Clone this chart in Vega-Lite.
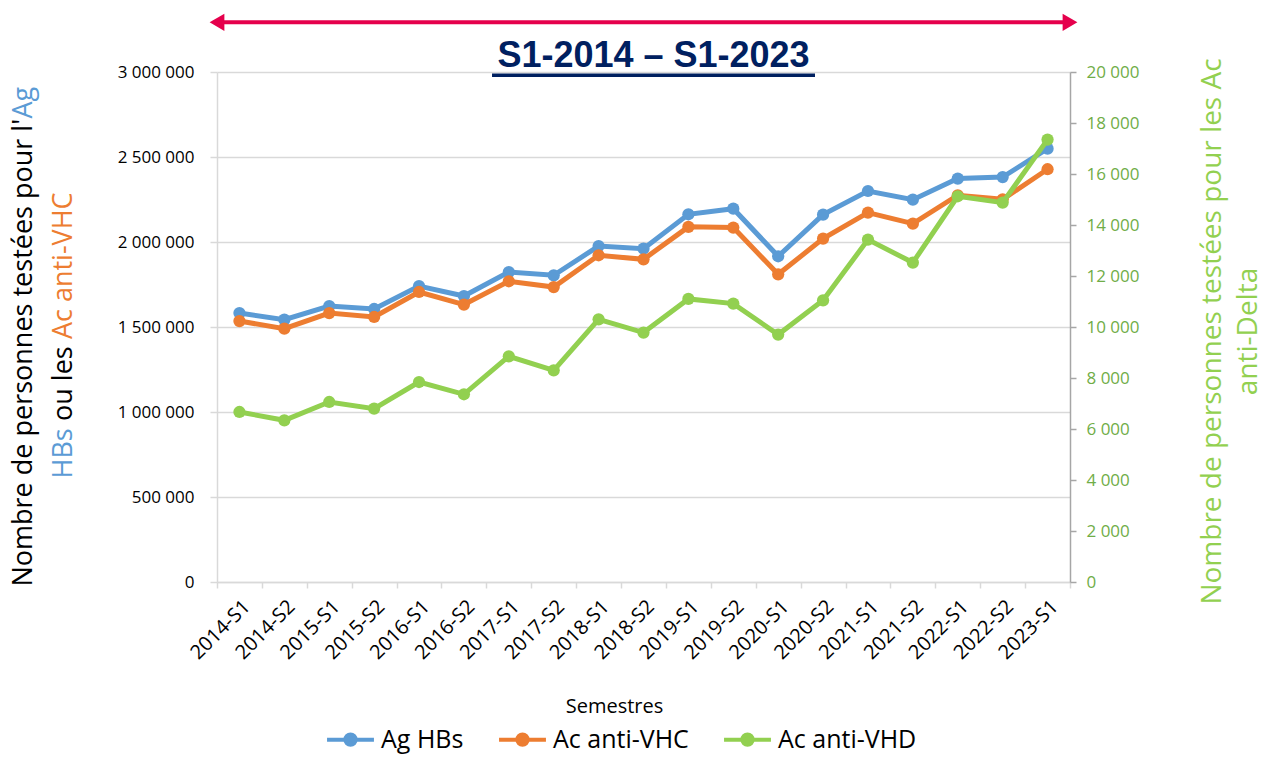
{
  "$schema": "https://vega.github.io/schema/vega-lite/v6.json",
  "width": 853,
  "height": 510,
  "autosize": "none",
  "padding": {"left": 217, "top": 72, "right": 194, "bottom": 175},
  "background": "white",
  "title": {
    "text": "S1-2014 – S1-2023",
    "font": "Liberation Sans",
    "fontSize": 36,
    "fontWeight": "bold",
    "color": "#002060",
    "anchor": "middle",
    "baseline": "alphabetic",
    "offset": 0,
    "dx": 10,
    "dy": 89
  },
  "config": {
    "view": {"stroke": null},
    "locale": {"number": {"decimal": ",", "thousands": " ", "grouping": [3], "currency": ["", " €"]}}
  },
  "datasets": {
    "series": [
      {"sem": "2014-S1", "serie": "Ag HBs", "n": 1582000},
      {"sem": "2014-S2", "serie": "Ag HBs", "n": 1543000},
      {"sem": "2015-S1", "serie": "Ag HBs", "n": 1623000},
      {"sem": "2015-S2", "serie": "Ag HBs", "n": 1606000},
      {"sem": "2016-S1", "serie": "Ag HBs", "n": 1741000},
      {"sem": "2016-S2", "serie": "Ag HBs", "n": 1682000},
      {"sem": "2017-S1", "serie": "Ag HBs", "n": 1823000},
      {"sem": "2017-S2", "serie": "Ag HBs", "n": 1804000},
      {"sem": "2018-S1", "serie": "Ag HBs", "n": 1976000},
      {"sem": "2018-S2", "serie": "Ag HBs", "n": 1961000},
      {"sem": "2019-S1", "serie": "Ag HBs", "n": 2163000},
      {"sem": "2019-S2", "serie": "Ag HBs", "n": 2196000},
      {"sem": "2020-S1", "serie": "Ag HBs", "n": 1916000},
      {"sem": "2020-S2", "serie": "Ag HBs", "n": 2161000},
      {"sem": "2021-S1", "serie": "Ag HBs", "n": 2300000},
      {"sem": "2021-S2", "serie": "Ag HBs", "n": 2249000},
      {"sem": "2022-S1", "serie": "Ag HBs", "n": 2373000},
      {"sem": "2022-S2", "serie": "Ag HBs", "n": 2382000},
      {"sem": "2023-S1", "serie": "Ag HBs", "n": 2549000},
      {"sem": "2014-S1", "serie": "Ac anti-VHC", "n": 1535000},
      {"sem": "2014-S2", "serie": "Ac anti-VHC", "n": 1490000},
      {"sem": "2015-S1", "serie": "Ac anti-VHC", "n": 1582000},
      {"sem": "2015-S2", "serie": "Ac anti-VHC", "n": 1559000},
      {"sem": "2016-S1", "serie": "Ac anti-VHC", "n": 1706000},
      {"sem": "2016-S2", "serie": "Ac anti-VHC", "n": 1632000},
      {"sem": "2017-S1", "serie": "Ac anti-VHC", "n": 1769000},
      {"sem": "2017-S2", "serie": "Ac anti-VHC", "n": 1735000},
      {"sem": "2018-S1", "serie": "Ac anti-VHC", "n": 1922000},
      {"sem": "2018-S2", "serie": "Ac anti-VHC", "n": 1898000},
      {"sem": "2019-S1", "serie": "Ac anti-VHC", "n": 2089000},
      {"sem": "2019-S2", "serie": "Ac anti-VHC", "n": 2085000},
      {"sem": "2020-S1", "serie": "Ac anti-VHC", "n": 1810000},
      {"sem": "2020-S2", "serie": "Ac anti-VHC", "n": 2020000},
      {"sem": "2021-S1", "serie": "Ac anti-VHC", "n": 2173000},
      {"sem": "2021-S2", "serie": "Ac anti-VHC", "n": 2108000},
      {"sem": "2022-S1", "serie": "Ac anti-VHC", "n": 2275000},
      {"sem": "2022-S2", "serie": "Ac anti-VHC", "n": 2251000},
      {"sem": "2023-S1", "serie": "Ac anti-VHC", "n": 2428000},
      {"sem": "2014-S1", "serie": "Ac anti-VHD", "n": 6667},
      {"sem": "2014-S2", "serie": "Ac anti-VHD", "n": 6341},
      {"sem": "2015-S1", "serie": "Ac anti-VHD", "n": 7059},
      {"sem": "2015-S2", "serie": "Ac anti-VHD", "n": 6800},
      {"sem": "2016-S1", "serie": "Ac anti-VHD", "n": 7843},
      {"sem": "2016-S2", "serie": "Ac anti-VHD", "n": 7361},
      {"sem": "2017-S1", "serie": "Ac anti-VHD", "n": 8851},
      {"sem": "2017-S2", "serie": "Ac anti-VHD", "n": 8302},
      {"sem": "2018-S1", "serie": "Ac anti-VHD", "n": 10302},
      {"sem": "2018-S2", "serie": "Ac anti-VHD", "n": 9780},
      {"sem": "2019-S1", "serie": "Ac anti-VHD", "n": 11100},
      {"sem": "2019-S2", "serie": "Ac anti-VHD", "n": 10918},
      {"sem": "2020-S1", "serie": "Ac anti-VHD", "n": 9702},
      {"sem": "2020-S2", "serie": "Ac anti-VHD", "n": 11047},
      {"sem": "2021-S1", "serie": "Ac anti-VHD", "n": 13427},
      {"sem": "2021-S2", "serie": "Ac anti-VHD", "n": 12526},
      {"sem": "2022-S1", "serie": "Ac anti-VHD", "n": 15126},
      {"sem": "2022-S2", "serie": "Ac anti-VHD", "n": 14878},
      {"sem": "2023-S1", "serie": "Ac anti-VHD", "n": 17349}
    ],
    "deco": [{"item": "decoration"}]
  },
  "layer": [
    {
      "data": {"name": "series"},
      "transform": [{"filter": "datum.serie === 'Ag HBs'"}],
      "mark": {"type": "line", "strokeWidth": 5, "point": {"size": 150, "filled": true}},
      "encoding": {
        "x": {
          "field": "sem", "type": "ordinal", "sort": null, "bandPosition": 0.5,
          "scale": {"type": "band", "paddingInner": 0, "paddingOuter": 0,
            "domain": ["2014-S1","2014-S2","2015-S1","2015-S2","2016-S1","2016-S2","2017-S1","2017-S2","2018-S1","2018-S2","2019-S1","2019-S2","2020-S1","2020-S2","2021-S1","2021-S2","2022-S1","2022-S2","2023-S1"]},
          "axis": {
            "title": "Semestres", "titleFont": "Open Sans", "titleFontSize": 20, "titleFontWeight": "normal", "titleColor": "#000000",
            "titleX": 397, "titleY": 130, "titleBaseline": "alphabetic", "titleAlign": "center",
            "labelAngle": -45, "labelFont": "Open Sans", "labelFontSize": 20, "labelColor": "#000000", "labelPadding": 8,
            "tickBand": "extent", "tickColor": "#D9D9D9", "tickSize": 6, "tickWidth": 1.5,
            "domainColor": "#D9D9D9", "domainWidth": 1.5, "grid": false
          }
        },
        "y": {
          "field": "n", "type": "quantitative",
          "scale": {"domain": [0, 3000000], "nice": false},
          "axis": {
            "orient": "left",
            "values": [0, 500000, 1000000, 1500000, 2000000, 2500000, 3000000],
            "format": ",d",
            "labelFont": "Open Sans", "labelFontSize": 17, "labelColor": "#000000", "labelPadding": 16,
            "grid": true, "gridColor": "#D9D9D9", "gridWidth": 1.5,
            "domainColor": "#D9D9D9", "domainWidth": 1.5,
            "tickColor": "#D9D9D9", "tickSize": 7, "tickWidth": 1.5,
            "title": "Nombre de personnes testées pour l'",
            "titleFont": "Open Sans", "titleFontSize": 27, "titleFontWeight": "normal", "titleColor": "#000000",
            "titleAngle": 270, "titleAlign": "left", "titleBaseline": "alphabetic",
            "titleX": -186, "titleY": 514
          }
        },
        "color": {
          "field": "serie", "type": "nominal",
          "scale": {"domain": ["Ag HBs", "Ac anti-VHC", "Ac anti-VHD"], "range": ["#5B9BD5", "#ED7D31", "#92D050"]},
          "legend": {
            "title": null, "orient": "none", "legendX": 108, "legendY": 642, "direction": "horizontal",
            "symbolType": "M-1,0L1,0M-0.22,0A0.22,0.22,0,1,0,0.22,0A0.22,0.22,0,1,0,-0.22,0",
            "symbolSize": 2200, "symbolStrokeWidth": 4,
            "labelFont": "Open Sans", "labelFontSize": 25, "labelColor": "#000000", "labelOffset": 5,
            "columnPadding": 27, "labelLimit": 400
          }
        }
      }
    },
    {
      "data": {"name": "series"},
      "transform": [{"filter": "datum.serie === 'Ac anti-VHC'"}],
      "mark": {"type": "line", "strokeWidth": 5, "point": {"size": 150, "filled": true}},
      "encoding": {
        "x": {"field": "sem", "type": "ordinal", "sort": null, "bandPosition": 0.5, "axis": null},
        "y": {
          "field": "n", "type": "quantitative",
          "scale": {"domain": [0, 3000000], "nice": false},
          "axis": {
            "orient": "left", "labels": false, "ticks": false, "domain": false, "grid": false,
            "title": "Ac anti-VHC",
            "titleFont": "Open Sans", "titleFontSize": 27, "titleFontWeight": "normal", "titleColor": "#ED7D31",
            "titleAngle": 270, "titleAlign": "left", "titleBaseline": "alphabetic",
            "titleX": -146, "titleY": 266.6
          }
        },
        "color": {"field": "serie", "type": "nominal"}
      }
    },
    {
      "data": {"name": "series"},
      "transform": [{"filter": "datum.serie === 'Ac anti-VHD'"}],
      "mark": {"type": "line", "strokeWidth": 5, "point": {"size": 150, "filled": true}},
      "encoding": {
        "x": {"field": "sem", "type": "ordinal", "sort": null, "bandPosition": 0.5, "axis": null},
        "y": {
          "field": "n", "type": "quantitative",
          "scale": {"domain": [0, 20000], "nice": false},
          "axis": {
            "orient": "right",
            "values": [0, 2000, 4000, 6000, 8000, 10000, 12000, 14000, 16000, 18000, 20000],
            "format": ",d",
            "labelFont": "Open Sans", "labelFontSize": 17, "labelColor": "#70AD47", "labelPadding": 10,
            "grid": false, "domainColor": "#A6A6A6", "domainWidth": 1.5,
            "tickColor": "#A6A6A6", "tickSize": 6, "tickWidth": 1.5,
            "title": ["Nombre de personnes testées pour les Ac", "anti-Delta"],
            "titleFont": "Open Sans", "titleFontSize": 28, "titleFontWeight": "normal", "titleColor": "#92D050",
            "titleAngle": 270, "titleAlign": "center", "titleBaseline": "alphabetic", "titleLineHeight": 36,
            "titleX": 150, "titleY": 259
          }
        },
        "color": {"field": "serie", "type": "nominal"}
      }
    },
    {
      "data": {"name": "deco"},
      "mark": {"type": "rule", "color": "#E5004C", "strokeWidth": 4, "clip": false},
      "encoding": {
        "x": {"datum": "2014-S1", "type": "ordinal", "bandPosition": 0, "axis": null},
        "x2": {"datum": "2023-S1", "bandPosition": 1},
        "y": {
          "datum": 3292000, "type": "quantitative",
          "scale": {"domain": [0, 3000000], "nice": false},
          "axis": {
            "orient": "left", "labels": false, "ticks": false, "domain": false, "grid": false,
            "title": "Ag",
            "titleFont": "Open Sans", "titleFontSize": 27, "titleFontWeight": "normal", "titleColor": "#5B9BD5",
            "titleAngle": 270, "titleAlign": "left", "titleBaseline": "alphabetic",
            "titleX": -186, "titleY": 46
          }
        }
      }
    },
    {
      "data": {"name": "deco"},
      "mark": {"type": "point", "shape": "triangle-left", "filled": true, "opacity": 1, "color": "#E5004C", "size": 290, "clip": false},
      "encoding": {
        "x": {"datum": "2014-S1", "type": "ordinal", "bandPosition": 0, "axis": null},
        "y": {
          "datum": 3292000, "type": "quantitative",
          "scale": {"domain": [0, 3000000], "nice": false},
          "axis": {
            "orient": "left", "labels": false, "ticks": false, "domain": false, "grid": false,
            "title": "HBs",
            "titleFont": "Open Sans", "titleFontSize": 27, "titleFontWeight": "normal", "titleColor": "#5B9BD5",
            "titleAngle": 270, "titleAlign": "left", "titleBaseline": "alphabetic",
            "titleX": -146, "titleY": 406
          }
        }
      }
    },
    {
      "data": {"name": "deco"},
      "mark": {"type": "point", "shape": "triangle-right", "filled": true, "opacity": 1, "color": "#E5004C", "size": 290, "clip": false},
      "encoding": {
        "x": {"datum": "2023-S1", "type": "ordinal", "bandPosition": 1, "axis": null},
        "y": {
          "datum": 3292000, "type": "quantitative",
          "scale": {"domain": [0, 3000000], "nice": false},
          "axis": {
            "orient": "left", "labels": false, "ticks": false, "domain": false, "grid": false,
            "title": "ou les",
            "titleFont": "Open Sans", "titleFontSize": 27, "titleFontWeight": "normal", "titleColor": "#000000",
            "titleAngle": 270, "titleAlign": "left", "titleBaseline": "alphabetic",
            "titleX": -146, "titleY": 348.5
          }
        }
      }
    },
    {
      "data": {"name": "deco"},
      "mark": {"type": "rule", "color": "#002060", "strokeWidth": 3.5, "clip": false},
      "encoding": {
        "x": {"datum": "2017-S1", "type": "ordinal", "bandPosition": 0.126, "axis": null},
        "x2": {"datum": "2020-S2", "bandPosition": 0.32},
        "y": {
          "datum": 2980600, "type": "quantitative",
          "scale": {"domain": [0, 3000000], "nice": false},
          "axis": null
        }
      }
    }
  ],
  "resolve": {"scale": {"y": "independent"}, "axis": {"y": "independent", "x": "independent"}}
}
